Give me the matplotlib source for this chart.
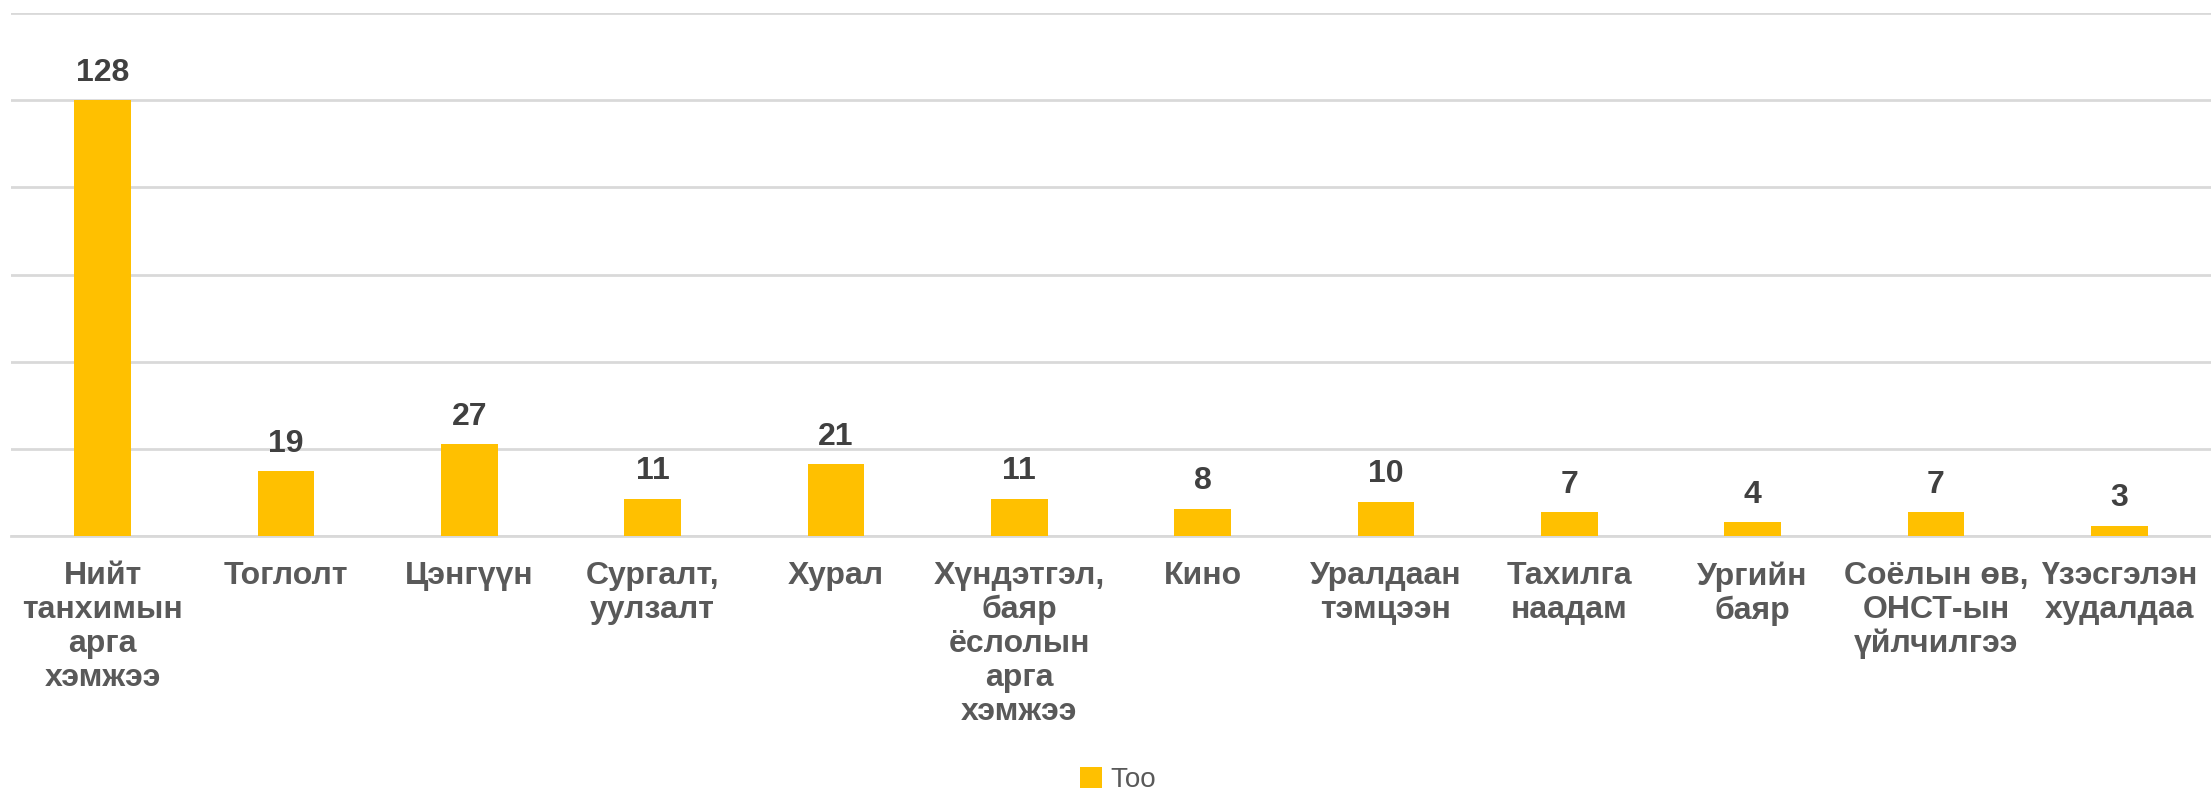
import numpy as np
import matplotlib.pyplot as plt

# chart data
categories = ['Нийт\nтанхимын\nарга\nхэмжээ', 'Тоглолт', 'Цэнгүүн', 'Сургалт,\nуулзалт',
              'Хурал', 'Хүндэтгэл,\nбаяр\nёслолын\nарга\nхэмжээ', 'Кино', 'Уралдаан\nтэмцээн',
              'Тахилга\nнаадам', 'Ургийн\nбаяр', 'Соёлын өв,\nОНСТ-ын\nүйлчилгээ', 'Үзэсгэлэн\nхудалдаа']
counts = [128, 19, 27, 11, 21, 11, 8, 10, 7, 4, 7, 3]
series_name = 'Тоо'

plt.rcParams['font.family'] = ['Liberation Sans', 'DejaVu Sans']

fig = plt.figure(figsize=(22.11, 7.95), dpi=100)
ax = fig.add_axes([11 / 2211, 1 - 536 / 795, 2200 / 2211, (536 - 13) / 795])

x = np.arange(len(categories))
bars = ax.bar(x, counts, width=0.31, color='#FFC000', zorder=3)

# value labels above bars
for b, v in zip(bars, counts):
    ax.annotate(str(v), (b.get_x() + b.get_width() / 2, b.get_height()),
                xytext=(0, 9), textcoords='offset points', ha='center', va='bottom',
                fontsize=23, fontweight='bold', color='#404040')

ax.set_xlim(-0.5, len(categories) - 0.5)
ax.set_ylim(0, 153.6)
ax.set_yticks(np.arange(0, 154, 25.6))
ax.yaxis.grid(True, color='#d9d9d9', linewidth=2, zorder=0)
ax.tick_params(axis='y', left=False, labelleft=False)
ax.set_xticks(x)
ax.set_xticklabels(categories, fontsize=23, fontweight='bold', color='#595959', linespacing=1.17)
ax.tick_params(axis='x', length=0, pad=18)
for s in ['top', 'right', 'left']:
    ax.spines[s].set_visible(False)
ax.spines['bottom'].set_color('#d9d9d9')
ax.spines['bottom'].set_linewidth(2)

leg = fig.legend([bars], [series_name], loc='center', bbox_to_anchor=(1118 / 2211, 1 - 780 / 795),
                 frameon=False, fontsize=20, handlelength=0.8, handleheight=0.8, handletextpad=0.3)
for t in leg.get_texts():
    t.set_color('#595959')

fig.savefig('out.png', dpi=100)
